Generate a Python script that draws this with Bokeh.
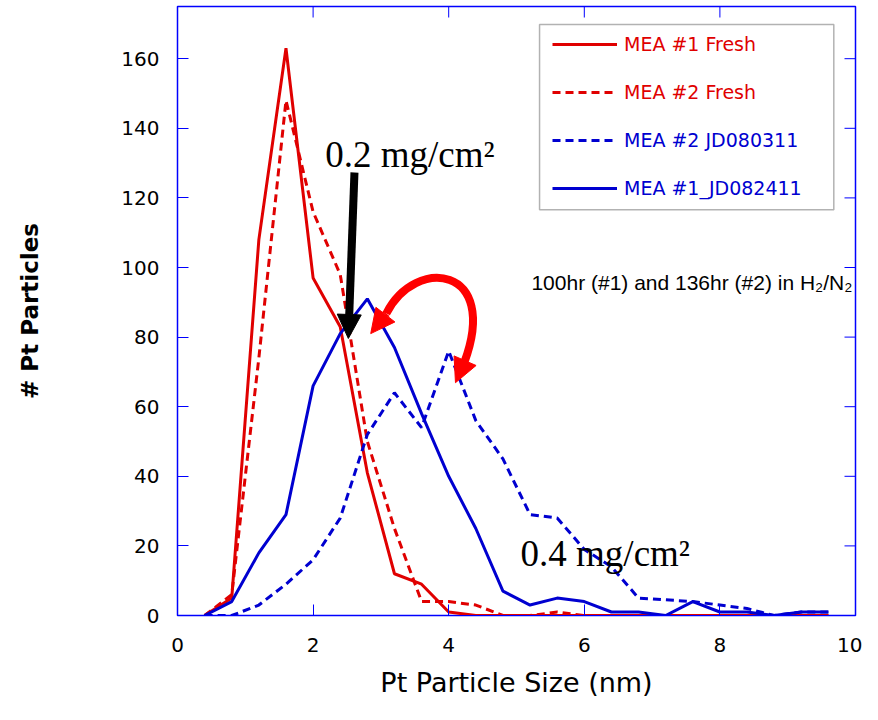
# Pt particle size distributions, fresh vs. aged MEAs
from bokeh.plotting import figure
from bokeh.models import (FixedTicker, Legend, LegendItem, Label,
                          Arrow, NormalHead, BoxAnnotation, Range1d)
from bokeh.embed import file_html
from bokeh.resources import INLINE

# particle size bins (nm)
size_nm = [0.4, 0.8, 1.2, 1.6, 2.0, 2.4, 2.8, 3.2, 3.6, 4.0, 4.4, 4.8,
           5.2, 5.6, 6.0, 6.4, 6.8, 7.2, 7.6, 8.0, 8.4, 8.8, 9.2, 9.6]

# counts
mea1_fresh = [0, 5, 108, 163, 97, 83, 41, 12, 9, 1, 0, 0,
              0, 0, 0, 0, 0, 0, 0, 0, 0, 0, 0, 0]
mea2_fresh = [0, 6, 74, 148, 116, 98, 50, 25, 4, 4, 3, 0,
              0, 1, 0, 0, 0, 0, 0, 0, 0, 0, 0, 0]
mea2_jd080311 = [0, 0, 3, 9, 16, 28, 52, 64, 54, 76, 56, 45,
                 29, 28, 19, 14, 5, 4.5, 4, 3, 2, 0, 1, 1]
mea1_jd082411 = [0, 4, 18, 29, 66, 81, 91, 77, 58, 40, 25, 7,
                 3, 5, 4, 1, 1, 0, 4, 1, 1, 0, 1, 1]

x_ticks = [0, 2, 4, 6, 8, 10]
y_ticks = [0, 20, 40, 60, 80, 100, 120, 140, 160]

X_MAX = 10
Y_MAX = 175.0
RED = "#e00000"
BLUE = "#0000d0"
FRAME = "#0000ff"

p = figure(width=862, height=704, output_backend="svg", toolbar_location=None,
           x_range=Range1d(0, X_MAX), y_range=Range1d(0, Y_MAX),
           min_border_left=177, min_border_right=7, min_border_top=6,
           min_border_bottom=89)
p.xgrid.visible = False
p.ygrid.visible = False
p.outline_line_color = FRAME
p.outline_line_width = 1.5

r1 = p.line(size_nm, mea1_fresh, line_color=RED, line_width=3)
r2 = p.line(size_nm, mea2_fresh, line_color=RED, line_width=3, line_dash="8 5")
r3 = p.line(size_nm, mea2_jd080311, line_color=BLUE, line_width=3, line_dash="8 5")
r4 = p.line(size_nm, mea1_jd082411, line_color=BLUE, line_width=3)

# axes
for ax in (p.xaxis[0], p.yaxis[0]):
    ax.axis_line_color = FRAME
    ax.major_tick_line_color = FRAME
    ax.minor_tick_line_color = None
    ax.major_tick_in = 11
    ax.major_tick_out = 0
    ax.major_label_text_font = "DejaVu Sans"
    ax.major_label_text_font_size = "20px"
    ax.major_label_text_color = "black"
    ax.axis_label_text_font = "DejaVu Sans"
    ax.axis_label_text_color = "black"

p.xaxis.ticker = FixedTicker(ticks=x_ticks)
p.yaxis.ticker = FixedTicker(ticks=y_ticks)
p.xaxis.axis_label = "Pt Particle Size (nm)"
p.xaxis.axis_label_text_font_size = "27px"
p.xaxis.axis_label_text_font_style = "normal"
p.xaxis.major_label_standoff = 22
p.xaxis.axis_label_standoff = 12
p.yaxis.axis_label = "# Pt Particles"
p.yaxis.axis_label_text_font_size = "23px"
p.yaxis.axis_label_text_font_style = "bold"
p.yaxis.major_label_standoff = 18
p.yaxis.axis_label_standoff = 75

# inward ticks on the top and right edges of the frame
top_x = x_ticks[1:-1]
p.segment(x0=top_x, y0=[Y_MAX] * len(top_x), x1=top_x,
          y1=[Y_MAX - 11 / 3.48] * len(top_x), line_color=FRAME, line_width=1)
right_y = y_ticks[1:]
p.segment(x0=[X_MAX] * len(right_y), y0=right_y, x1=[X_MAX - 11 / 67.8] * len(right_y),
          y1=right_y, line_color=FRAME, line_width=1)

# legend: two blocks so the label colours can differ, plus a box around them
p.add_layout(BoxAnnotation(left=5.34, right=9.68, bottom=116.6, top=169.8,
                           fill_alpha=0, line_color="black", line_width=1.5))
leg_style = dict(glyph_width=65, glyph_height=22, label_height=22, spacing=26,
                 label_standoff=7, padding=0, margin=0, border_line_color=None,
                 background_fill_alpha=0, label_text_font="DejaVu Sans",
                 label_text_font_size="19px")
leg1 = Legend(items=[LegendItem(label="MEA #1 Fresh", renderers=[r1]),
                     LegendItem(label="MEA #2 Fresh", renderers=[r2])],
              location=(375, 512), label_text_color=RED, **leg_style)
leg2 = Legend(items=[LegendItem(label="MEA #2 JD080311", renderers=[r3]),
                     LegendItem(label="MEA #1_JD082411", renderers=[r4])],
              location=(375, 416), label_text_color=BLUE, **leg_style)
p.add_layout(leg1)
p.add_layout(leg2)

# annotations
p.add_layout(Label(x=2.18, y=132.4, text="0.2 mg/cm²", text_font="Liberation Serif",
                   text_font_size="37px", text_color="black",
                   text_baseline="alphabetic"))
p.add_layout(Label(x=5.06, y=17.8, text="0.4 mg/cm²", text_font="Liberation Serif",
                   text_font_size="37px", text_color="black",
                   text_baseline="alphabetic"))
p.add_layout(Label(x=5.22, y=95.7, text="100hr (#1) and 136hr (#2) in H₂/N₂",
                   text_font="Liberation Sans", text_font_size="21px",
                   text_color="black", text_baseline="alphabetic"))

p.add_layout(Arrow(end=NormalHead(size=24, fill_color="black", line_color="black"),
                   x_start=2.61, y_start=127.3, x_end=2.52, y_end=79.6,
                   line_color="black", line_width=8))

# curved red double arrow between the two blue peaks
p.bezier(x0=[3.08], y0=[86.8], x1=[4.23], y1=[72.7],
         cx0=[3.51], cy0=[103.4], cx1=[4.76], cy1=[100.5],
         line_color="#ff0000", line_width=8)
p.add_layout(Arrow(end=NormalHead(size=24, fill_color="#ff0000", line_color="#ff0000"),
                   x_start=3.08, y_start=86.8, x_end=2.85, y_end=81.0,
                   line_color="#ff0000", line_width=8))
p.add_layout(Arrow(end=NormalHead(size=24, fill_color="#ff0000", line_color="#ff0000"),
                   x_start=4.23, y_start=72.7, x_end=4.10, y_end=66.9,
                   line_color="#ff0000", line_width=8))

open("out.html", "w").write(file_html(p, INLINE))
